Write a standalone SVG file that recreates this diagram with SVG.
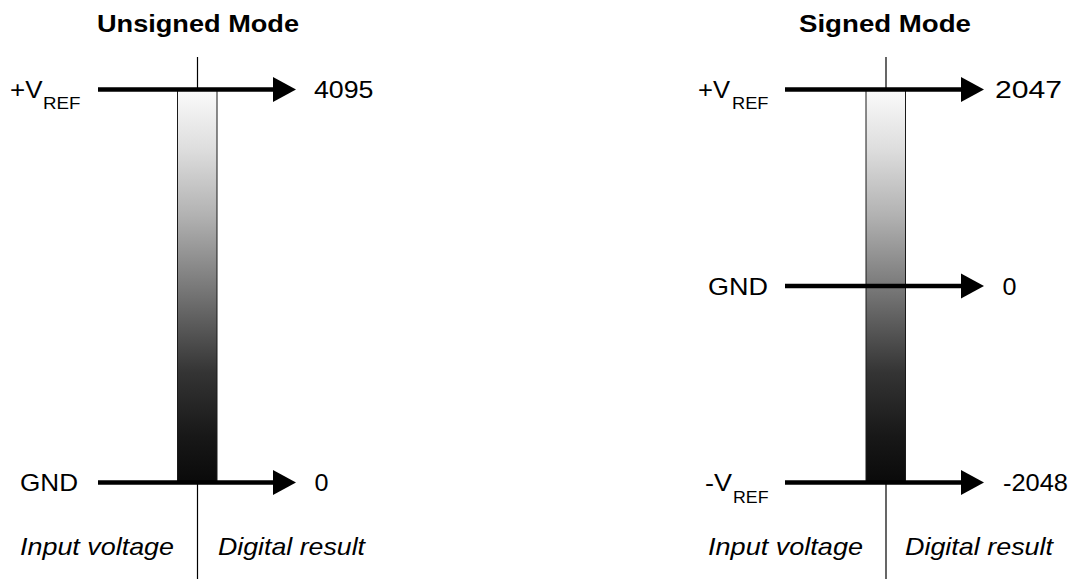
<svg xmlns="http://www.w3.org/2000/svg" width="1077" height="579" viewBox="0 0 1077 579">
  <defs>
    <!-- analog input range shading: full scale at top, ground/negative at bottom -->
    <linearGradient id="rangeShade" x1="0" y1="0" x2="0" y2="1">
      <stop offset="0" stop-color="#fbfbfb"/>
      <stop offset="0.15" stop-color="#dedede"/>
      <stop offset="0.32" stop-color="#b2b2b2"/>
      <stop offset="0.5" stop-color="#7a7a7a"/>
      <stop offset="0.72" stop-color="#343434"/>
      <stop offset="0.88" stop-color="#181818"/>
      <stop offset="1" stop-color="#0a0a0a"/>
    </linearGradient>
    <polygon id="head" points="0,-12.5 23,0 0,12.5"/>
  </defs>
  <style>
    text { font-family: "Liberation Sans", Arial, sans-serif; fill: #000; }
    .title { font-size: 24px; font-weight: bold; }
    .lvl { font-size: 24.5px; }
    .vp { font-size: 23px; }
    .sub { font-size: 16.5px; }
    .cap { font-size: 24px; font-style: italic; }
    .divider { stroke: #000; stroke-width: 1.2; }
    .bar { fill: url(#rangeShade); stroke: #1a1a1a; stroke-width: 1; }
    .arrow { stroke: #000; stroke-width: 4.6; fill: none; }
    .tip { fill: #000; }
  </style>
  <rect width="1077" height="579" fill="#fff"/>

  <!-- ===== Unsigned mode ===== -->
  <g id="unsigned-mode">
    <text class="title" x="97" y="32" textLength="202" lengthAdjust="spacingAndGlyphs">Unsigned Mode</text>
    <line class="divider" x1="197.5" y1="57" x2="197.5" y2="579"/>
    <g id="unsigned-range">
      <rect class="bar" x="177.5" y="89.5" width="39.5" height="393"/>
    </g>
    <g id="unsigned-vref">
      <text class="vp" x="10" y="97.5" textLength="32.5" lengthAdjust="spacingAndGlyphs">+V</text>
      <text class="sub" x="43" y="108.8" textLength="37.5" lengthAdjust="spacingAndGlyphs">REF</text>
      <text class="lvl" x="314" y="98.3" textLength="59.5" lengthAdjust="spacingAndGlyphs">4095</text>
    </g>
    <g id="unsigned-gnd">
      <text class="lvl" x="20" y="491" textLength="58" lengthAdjust="spacingAndGlyphs">GND</text>
      <text class="lvl" x="314.5" y="491" textLength="14" lengthAdjust="spacingAndGlyphs">0</text>
    </g>
    <g id="unsigned-captions">
      <text class="cap" x="20" y="555" textLength="154" lengthAdjust="spacingAndGlyphs">Input voltage</text>
      <text class="cap" x="218" y="555" textLength="147" lengthAdjust="spacingAndGlyphs">Digital result</text>
    </g>
  </g>

  <!-- ===== Signed mode ===== -->
  <g id="signed-mode">
    <text class="title" x="799" y="32" textLength="172" lengthAdjust="spacingAndGlyphs">Signed Mode</text>
    <line class="divider" x1="886" y1="57" x2="886" y2="579"/>
    <g id="signed-range">
      <rect class="bar" x="866" y="89.5" width="39.5" height="393"/>
    </g>
    <g id="signed-vref">
      <text class="vp" x="698" y="97.5" textLength="32" lengthAdjust="spacingAndGlyphs">+V</text>
      <text class="sub" x="732" y="108.8" textLength="36.5" lengthAdjust="spacingAndGlyphs">REF</text>
      <text class="lvl" x="995" y="98.3" textLength="67" lengthAdjust="spacingAndGlyphs">2047</text>
    </g>
    <g id="signed-gnd">
      <text class="lvl" x="708" y="295" textLength="60" lengthAdjust="spacingAndGlyphs">GND</text>
      <text class="lvl" x="1002.5" y="295" textLength="14" lengthAdjust="spacingAndGlyphs">0</text>
    </g>
    <g id="signed-neg-vref">
      <text class="vp" x="705" y="491" textLength="27" lengthAdjust="spacingAndGlyphs">-V</text>
      <text class="sub" x="733" y="502.5" textLength="35.5" lengthAdjust="spacingAndGlyphs">REF</text>
      <text class="lvl" x="1003" y="490.5" textLength="65" lengthAdjust="spacingAndGlyphs">-2048</text>
    </g>
    <g id="signed-captions">
      <text class="cap" x="708" y="555" textLength="155" lengthAdjust="spacingAndGlyphs">Input voltage</text>
      <text class="cap" x="905" y="555" textLength="148" lengthAdjust="spacingAndGlyphs">Digital result</text>
    </g>
  </g>

  <!-- ===== Conversion arrows ===== -->
  <g id="connectors">
    <line class="arrow" x1="98" y1="89.5" x2="275" y2="89.5"/>
    <use href="#head" class="tip" x="273" y="89.5"/>
    <line class="arrow" x1="98" y1="482.5" x2="275" y2="482.5"/>
    <use href="#head" class="tip" x="273" y="482.5"/>

    <line class="arrow" x1="785" y1="89.5" x2="963" y2="89.5"/>
    <use href="#head" class="tip" x="961" y="89.5"/>
    <line class="arrow" x1="785" y1="286" x2="963" y2="286"/>
    <use href="#head" class="tip" x="961" y="286"/>
    <line class="arrow" x1="785" y1="482.5" x2="963" y2="482.5"/>
    <use href="#head" class="tip" x="961" y="482.5"/>
  </g>
</svg>
